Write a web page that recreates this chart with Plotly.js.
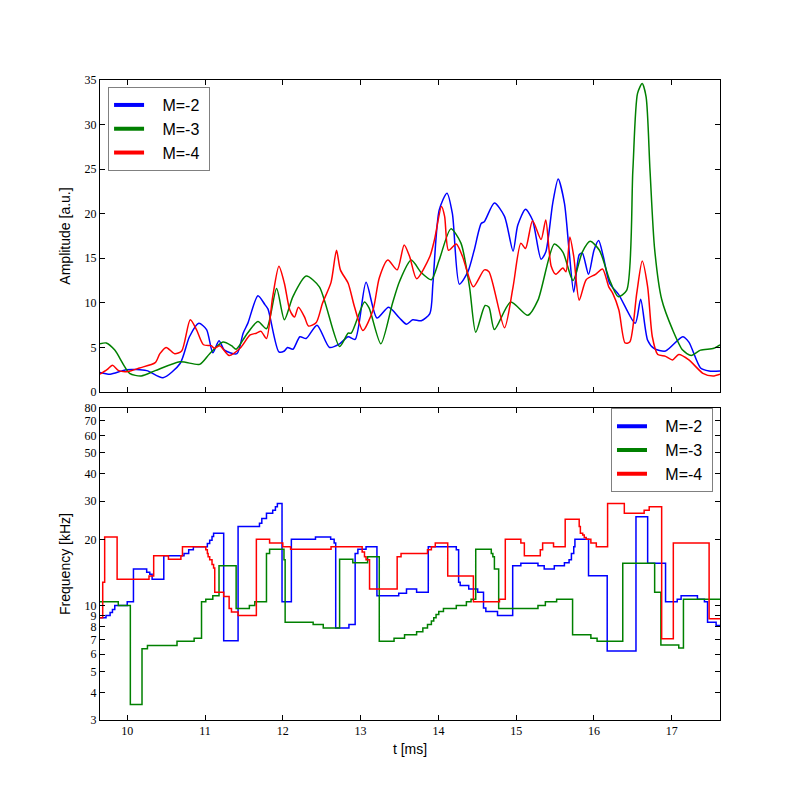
<!DOCTYPE html>
<html>
<head>
<meta charset="utf-8">
<script src="https://cdn.plot.ly/plotly-3.0.1.min.js"></script>
<style>html,body{margin:0;padding:0;background:#fff;}#chart{width:800px;height:800px;}</style>
</head>
<body>
<div id="chart"></div>
<script>
// ---------- Data ----------
var seriesNames = ["M=-2", "M=-3", "M=-4"];
var seriesColors = ["#0000ff", "#008000", "#ff0000"];

// Amplitude (top panel)
var ampT_m2 = [9.65, 9.78, 9.99, 10.25, 10.46, 10.68, 10.80, 10.92, 11.02, 11.10, 11.18, 11.25, 11.41, 11.49, 11.55, 11.68, 11.77, 11.81, 11.95, 12.02, 12.06, 12.13, 12.22, 12.30, 12.44, 12.60, 12.73, 12.84, 12.93, 13.07, 13.21, 13.36, 13.50, 13.59, 13.67, 13.78, 13.89, 13.93, 14.01, 14.11, 14.18, 14.27, 14.38, 14.46, 14.55, 14.59, 14.72, 14.85, 14.96, 15.02, 15.12, 15.21, 15.32, 15.38, 15.47, 15.54, 15.62, 15.68, 15.74, 15.81, 15.85, 15.93, 16.00, 16.06, 16.12, 16.20, 16.32, 16.53, 16.60, 16.69, 16.77, 16.92, 17.14, 17.22, 17.37, 17.48, 17.62];
var ampA_m2 = [2.2, 2.0, 2.5, 2.4, 1.6, 3.2, 6.2, 7.7, 7.0, 4.4, 5.75, 4.7, 4.3, 6.6, 7.7, 10.8, 9.8, 9.3, 4.5, 4.6, 5.0, 4.8, 6.2, 6.0, 7.5, 5.0, 5.4, 6.2, 5.9, 12.3, 8.3, 9.5, 8.3, 7.6, 8.1, 8.0, 8.8, 12.2, 20.4, 22.3, 20.0, 12.1, 13.5, 15.9, 18.9, 19.1, 21.2, 19.7, 15.8, 18.7, 20.5, 19.3, 14.9, 15.7, 21.2, 23.9, 21.2, 15.9, 11.2, 15.4, 15.6, 13.2, 15.9, 17.0, 15.2, 12.2, 10.9, 7.7, 10.4, 5.8, 4.9, 4.6, 6.2, 5.6, 2.7, 2.36, 2.36];

var ampT_m3 = [9.65, 9.73, 9.84, 10.03, 10.18, 10.36, 10.68, 10.93, 11.06, 11.23, 11.34, 11.40, 11.53, 11.68, 11.79, 11.92, 12.02, 12.13, 12.30, 12.47, 12.73, 12.84, 12.88, 13.05, 13.11, 13.26, 13.41, 13.50, 13.65, 13.78, 13.91, 14.01, 14.16, 14.29, 14.40, 14.48, 14.60, 14.65, 14.72, 14.93, 15.15, 15.28, 15.49, 15.60, 15.73, 15.85, 15.95, 16.07, 16.20, 16.31, 16.42, 16.50, 16.56, 16.62, 16.67, 16.72, 16.78, 16.87, 17.01, 17.14, 17.25, 17.37, 17.54, 17.62];
var ampA_m3 = [5.4, 5.5, 4.7, 2.1, 1.8, 2.4, 3.4, 3.1, 4.3, 5.6, 5.2, 4.8, 6.4, 7.9, 7.1, 11.6, 8.1, 10.7, 13.0, 11.8, 5.1, 6.6, 6.6, 10.1, 9.4, 5.4, 9.95, 12.4, 14.8, 13.4, 12.6, 14.8, 18.3, 16.7, 11.8, 6.7, 9.7, 9.5, 7.0, 10.1, 8.6, 10.3, 16.6, 15.7, 12.5, 15.7, 16.9, 15.9, 12.6, 10.7, 11.4, 24.9, 33.5, 34.6, 33.1, 24.9, 16.0, 10.4, 7.0, 4.7, 4.1, 4.7, 4.9, 5.3];

var ampT_m4 = [9.65, 9.74, 9.81, 9.89, 10.01, 10.16, 10.36, 10.42, 10.50, 10.61, 10.70, 10.81, 10.89, 10.98, 11.08, 11.12, 11.19, 11.31, 11.45, 11.58, 11.66, 11.72, 11.79, 11.87, 11.95, 12.02, 12.09, 12.15, 12.20, 12.28, 12.33, 12.43, 12.51, 12.62, 12.69, 12.74, 12.84, 12.92, 13.03, 13.16, 13.24, 13.35, 13.47, 13.56, 13.63, 13.72, 13.89, 13.95, 14.04, 14.08, 14.13, 14.23, 14.31, 14.45, 14.59, 14.65, 14.85, 14.96, 15.06, 15.12, 15.21, 15.32, 15.38, 15.45, 15.51, 15.60, 15.64, 15.69, 15.74, 15.81, 15.90, 16.02, 16.11, 16.19, 16.24, 16.32, 16.40, 16.46, 16.55, 16.62, 16.69, 16.75, 16.82, 16.92, 17.01, 17.09, 17.22, 17.40, 17.53, 17.62];
var ampA_m4 = [2.0, 2.5, 3.0, 2.4, 2.3, 2.7, 3.3, 4.3, 5.0, 4.3, 4.6, 8.1, 7.0, 5.3, 5.2, 4.9, 5.2, 4.1, 4.9, 6.4, 6.6, 6.8, 6.0, 10.7, 14.1, 12.2, 9.2, 8.4, 9.5, 8.4, 7.4, 7.8, 9.95, 12.3, 15.9, 13.7, 12.2, 9.6, 6.9, 9.2, 12.8, 14.8, 13.7, 16.5, 15.2, 12.7, 15.2, 17.1, 20.8, 19.7, 15.9, 16.6, 15.2, 11.8, 13.7, 13.5, 7.2, 11.8, 16.7, 16.1, 19.2, 17.1, 19.3, 14.1, 13.2, 13.9, 13.5, 17.4, 15.2, 10.3, 12.6, 13.2, 13.8, 11.8, 11.1, 9.2, 5.5, 5.6, 11.1, 14.7, 11.8, 6.2, 4.2, 4.0, 3.6, 4.2, 3.6, 2.1, 1.8, 2.0];

// Frequency (bottom panel), step starts
var freqT_m2 = [9.65, 9.727, 9.78, 9.81, 9.84, 10.0, 10.08, 10.25, 10.29, 10.32, 10.47, 10.73, 10.79, 10.85, 11.03, 11.06, 11.09, 11.11, 11.24, 11.425, 11.70, 11.73, 11.79, 11.87, 11.905, 11.93, 11.99, 12.11, 12.42, 12.615, 12.66, 12.68, 12.85, 12.93, 12.965, 13.07, 13.21, 13.49, 13.59, 13.72, 13.87, 14.23, 14.26, 14.28, 14.39, 14.505, 14.58, 14.61, 14.76, 14.955, 15.06, 15.28, 15.36, 15.49, 15.62, 15.68, 15.71, 15.74, 15.755, 15.93, 16.17, 16.54, 16.69, 16.92, 17.07, 17.12, 17.33, 17.42, 17.46, 17.57, 17.62];
var freqF_m2 = [8.8, 9.0, 9.3, 9.6, 10.0, 10.4, 14.7, 14.2, 13.9, 13.2, 16.9, 17.3, 18.0, 18.6, 19.2, 19.9, 20.7, 21.4, 6.9, 23.0, 23.8, 25.0, 26.4, 27.3, 28.3, 29.3, 10.4, 20.1, 20.6, 20.1, 19.3, 7.9, 8.2, 17.3, 18.1, 18.6, 11.1, 11.4, 11.9, 11.5, 18.6, 18.0, 12.8, 12.35, 11.9, 11.5, 9.75, 9.4, 9.0, 15.2, 15.6, 15.2, 14.7, 15.2, 15.7, 16.2, 17.3, 18.6, 20.1, 13.7, 6.2, 25.5, 15.6, 10.4, 10.7, 11.1, 10.7, 10.4, 8.4, 8.1, 8.1];

var freqT_m3 = [9.65, 9.885, 10.04, 10.19, 10.26, 10.64, 10.86, 10.955, 11.01, 11.10, 11.18, 11.40, 11.57, 11.64, 11.79, 11.83, 12.015, 12.03, 12.39, 12.52, 12.73, 12.90, 13.09, 13.24, 13.43, 13.565, 13.72, 13.80, 13.86, 13.91, 13.94, 13.97, 14.005, 14.065, 14.23, 14.36, 14.42, 14.48, 14.68, 14.70, 14.72, 14.775, 15.28, 15.375, 15.52, 15.725, 15.96, 16.04, 16.37, 16.78, 16.86, 17.09, 17.15, 17.62];
var freqF_m3 = [10.4, 10.0, 3.53, 6.35, 6.57, 6.87, 7.1, 10.4, 10.7, 11.1, 15.2, 9.7, 10.0, 10.4, 17.3, 18.1, 16.2, 8.4, 8.2, 7.9, 16.3, 15.7, 16.7, 6.87, 7.1, 7.36, 7.6, 7.9, 8.2, 8.5, 8.8, 9.1, 9.4, 9.7, 10.0, 10.4, 10.7, 18.1, 17.3, 16.7, 14.7, 9.7, 10.0, 10.4, 10.7, 7.36, 7.1, 6.87, 15.6, 11.5, 6.6, 6.4, 10.7, 10.7];

var freqT_m4 = [9.65, 9.685, 9.71, 9.87, 10.28, 10.34, 10.53, 10.69, 10.71, 11.01, 11.03, 11.04, 11.06, 11.09, 11.11, 11.125, 11.24, 11.31, 11.34, 11.425, 11.66, 11.83, 12.0, 12.10, 12.62, 13.02, 13.05, 13.07, 13.115, 13.47, 13.52, 13.86, 13.91, 13.96, 14.12, 14.45, 14.785, 14.86, 15.06, 15.105, 15.31, 15.34, 15.48, 15.63, 15.81, 15.825, 15.855, 15.875, 15.90, 15.96, 16.03, 16.175, 16.39, 16.645, 16.71, 16.87, 17.02, 17.48, 17.62];
var freqF_m4 = [8.8, 12.8, 20.6, 13.2, 13.65, 16.9, 16.3, 16.9, 18.6, 18.0, 17.3, 16.7, 16.2, 15.4, 14.85, 11.5, 11.0, 9.7, 9.34, 9.0, 20.1, 19.3, 18.6, 18.1, 18.6, 17.6, 16.7, 16.2, 11.9, 16.7, 17.3, 18.0, 18.6, 19.3, 13.65, 10.4, 10.7, 20.1, 19.3, 16.9, 18.0, 19.3, 18.6, 24.8, 23.0, 21.4, 21.0, 20.5, 20.1, 19.3, 18.6, 29.3, 26.4, 27.3, 28.3, 7.05, 19.3, 8.7, 8.7];

var ampTicks = [0, 5, 10, 15, 20, 25, 30, 35];
var freqTicks = [3, 4, 5, 6, 7, 8, 9, 10, 20, 30, 40, 50, 60, 70, 80];
var timeTicks = [10, 11, 12, 13, 14, 15, 16, 17];

// ---------- Traces ----------
var ampT = [ampT_m2, ampT_m3, ampT_m4];
var ampA = [ampA_m2, ampA_m3, ampA_m4];
var freqT = [freqT_m2, freqT_m3, freqT_m4];
var freqF = [freqF_m2, freqF_m3, freqF_m4];

var traces = [];
for (var i = 0; i < 3; i++) {
  traces.push({
    x: ampT[i], y: ampA[i], xaxis: 'x', yaxis: 'y', type: 'scatter', mode: 'lines',
    line: {color: seriesColors[i], width: 1.5, shape: 'spline', smoothing: 0.7},
    showlegend: false, hoverinfo: 'skip'
  });
}
for (var i = 0; i < 3; i++) {
  traces.push({
    x: freqT[i], y: freqF[i], xaxis: 'x2', yaxis: 'y2', type: 'scatter', mode: 'lines',
    line: {color: seriesColors[i], width: 1.5, shape: 'hv'},
    showlegend: false, hoverinfo: 'skip'
  });
}
// legend entries (thick swatches as in the original)
var pad = '\u00a0\u00a0\u00a0';
for (var i = 0; i < 3; i++) {
  traces.push({
    x: [null], y: [null], xaxis: 'x', yaxis: 'y', type: 'scatter', mode: 'lines',
    name: pad + seriesNames[i] + '\u00a0', line: {color: seriesColors[i], width: 4}, legend: 'legend'
  });
}
for (var i = 0; i < 3; i++) {
  traces.push({
    x: [null], y: [null], xaxis: 'x2', yaxis: 'y2', type: 'scatter', mode: 'lines',
    name: pad + seriesNames[i] + '\u00a0', line: {color: seriesColors[i], width: 4}, legend: 'legend2'
  });
}

var tickFont = {family: 'Liberation Serif, serif', size: 12, color: '#000'};
var titleFont = {family: 'Liberation Sans, Arial, sans-serif', size: 14, color: '#000'};
var axisCommon = {
  showline: true, linecolor: '#000', linewidth: 1, mirror: 'ticks',
  ticks: 'inside', ticklen: 5, tickwidth: 1, tickcolor: '#000',
  showgrid: false, zeroline: false, tickfont: tickFont
};
var xRange = [9.65, 17.62];

var legendFont = {family: 'Liberation Sans, Arial, sans-serif', size: 16, color: '#000'};

var layout = {
  width: 800, height: 800,
  margin: {l: 100, r: 80, t: 80, b: 80},
  paper_bgcolor: '#fff', plot_bgcolor: '#fff',
  xaxis: Object.assign({}, axisCommon, {
    domain: [0, 1], anchor: 'y', range: xRange,
    tickvals: timeTicks, showticklabels: false
  }),
  yaxis: Object.assign({}, axisCommon, {
    domain: [0.5125, 1], anchor: 'x', range: [0, 35],
    tickvals: ampTicks, ticktext: ampTicks.map(String),
    title: {text: 'Amplitude [a.u.]', font: titleFont, standoff: 10}
  }),
  xaxis2: Object.assign({}, axisCommon, {
    domain: [0, 1], anchor: 'y2', range: xRange,
    tickvals: timeTicks, ticktext: timeTicks.map(String),
    title: {text: 't [ms]', font: titleFont, standoff: 6}
  }),
  yaxis2: Object.assign({}, axisCommon, {
    domain: [0, 0.4875], anchor: 'x2', type: 'log',
    range: [Math.log10(3), Math.log10(80)],
    tickvals: freqTicks, ticktext: freqTicks.map(String),
    title: {text: 'Frequency [kHz]', font: titleFont, standoff: 10}
  }),
  legend: {
    x: 0.013, y: 0.989, xanchor: 'left', yanchor: 'top',
    bgcolor: '#fff', bordercolor: '#808080', borderwidth: 1,
    font: legendFont, itemwidth: 30, tracegroupgap: 0
  },
  legend2: {
    x: 0.9887, y: 0.487, xanchor: 'right', yanchor: 'top',
    bgcolor: '#fff', bordercolor: '#808080', borderwidth: 1,
    font: legendFont, itemwidth: 30, tracegroupgap: 0
  },
  showlegend: true
};

Plotly.newPlot('chart', traces, layout, {staticPlot: true, displayModeBar: false});
</script>
</body>
</html>
